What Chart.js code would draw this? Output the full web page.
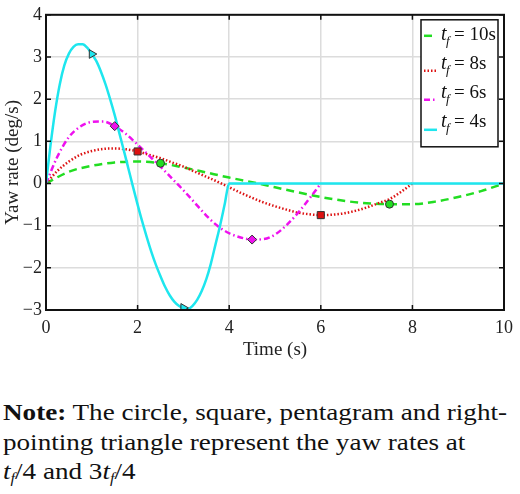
<!DOCTYPE html>
<html>
<head>
<meta charset="utf-8">
<script src="https://cdn.jsdelivr.net/npm/chart.js@4.4.1/dist/chart.umd.min.js"></script>
<style>
body{margin:0;background:#fff;width:520px;height:494px;overflow:hidden;position:relative;font-family:"Liberation Serif",serif;color:#111;}
#wrap{position:absolute;left:0;top:0;width:520px;height:362px;}
#note{position:absolute;left:3px;top:398px;font-size:24px;line-height:29.5px;white-space:nowrap;transform:scaleX(1.13);transform-origin:0 0;}
#note sub{font-size:60%;vertical-align:-0.25em;line-height:0;}
</style>
</head>
<body>
<div id="wrap"><canvas id="chart" width="520" height="362"></canvas></div>
<div id="note"><b>Note:</b> The circle, square, pentagram and right-<br>pointing triangle represent the yaw rates at<br><i>t<sub>f</sub></i>/4 and 3<i>t<sub>f</sub></i>/4</div>
<script>
// ----- DATOS ----- //
// t_f = 10 s
const t10 = [0,0.5,1,1.5,2,2.5,3,3.5,4,4.5,5,5.5,6,6.5,7,7.5,8,8.5,9,9.5,10];
const r10 = [0,0.28,0.42,0.5,0.52,0.48,0.38,0.26,0.14,0.03,-0.09,-0.21,-0.32,-0.41,-0.47,-0.49,-0.49,-0.43,-0.32,-0.18,0];
// t_f = 8 s
const t8 = [0,0.25,0.5,0.75,1,1.25,1.5,1.75,2,2.25,2.5,2.75,3,3.25,3.5,3.75,4,4.25,4.5,4.75,5,5.25,5.5,5.75,6,6.25,6.5,6.75,7,7.25,7.5,7.75,8];
const r8 = [0,0.3,0.52,0.68,0.77,0.82,0.83,0.81,0.76,0.68,0.6,0.5,0.4,0.28,0.16,0.04,-0.09,-0.22,-0.34,-0.45,-0.54,-0.62,-0.69,-0.73,-0.75,-0.74,-0.71,-0.65,-0.57,-0.47,-0.37,-0.2,0];
// t_f = 6 s
const t6 = [0,0.25,0.5,0.75,1,1.25,1.5,1.75,2,2.25,2.5,2.75,3,3.25,3.5,3.75,4,4.25,4.5,4.75,5,5.25,5.5,5.75,6];
const r6 = [0,0.64,1.1,1.35,1.46,1.47,1.36,1.17,0.92,0.66,0.4,0.12,-0.16,-0.46,-0.76,-1.01,-1.18,-1.28,-1.33,-1.32,-1.21,-0.99,-0.7,-0.36,0];
// t_f = 4 s
const t4 = [0,0.1,0.2,0.3,0.4,0.5,0.6,0.7,0.8,0.9,1,1.1,1.2,1.3,1.4,1.5,1.6,1.7,1.8,1.9,2,2.1,2.2,2.3,2.4,2.5,2.6,2.7,2.8,2.9,3,3.1,3.2,3.3,3.4,3.5,3.6,3.7,3.8,3.9,4,10];
const r4 = [0,0.92,1.72,2.35,2.8,3.08,3.24,3.3,3.3,3.22,3.07,2.9,2.65,2.35,2.0,1.62,1.2,0.78,0.35,-0.08,-0.5,-0.9,-1.27,-1.62,-1.93,-2.2,-2.45,-2.65,-2.8,-2.9,-2.96,-2.97,-2.9,-2.76,-2.55,-2.27,-1.9,-1.45,-1.0,-0.5,0,0];
// marcadores en tf/4 y 3tf/4
const markT10 = [2.5,7.5], markR10 = [0.48,-0.49];
const markT8 = [2,6],      markR8 = [0.76,-0.75];
const markT6 = [1.5,4.5],  markR6 = [1.36,-1.33];
const markT4 = [1,3],      markR4 = [3.07,-2.95];

const xTicks = [0,2,4,6,8,10];
const yTicks = [-3,-2,-1,0,1,2,3,4];
const legendLabels = ["10s","8s","6s","4s"];

// ----- ESTILOS ----- //
const GREEN = "#22dd22", RED = "#dd1111", MAGENTA = "#ee11ee", CYAN = "#1ee6ee";
const SERIF = "'Liberation Serif', 'Times New Roman', serif";

const pts = (xs, ys) => xs.map((x, i) => ({x: x, y: ys[i]}));

function curve(xs, ys, color, dash, order) {
    return {
        data: pts(xs, ys), borderColor: color, borderWidth: 2.5, borderDash: dash,
        pointRadius: 0, fill: false, cubicInterpolationMode: "monotone", order: order
    };
}
function marks(xs, ys, color, style, r, rot) {
    return {
        type: "scatter", data: pts(xs, ys), backgroundColor: color, borderColor: "#333",
        borderWidth: 1, pointStyle: style, pointRadius: r, pointRotation: rot || 0,
        showLine: false, order: 0
    };
}

// marco negro y marcas interiores (estilo MATLAB) + leyenda
const decor = {
    id: "decor",
    afterDraw(chart) {
        const {ctx, chartArea: a, scales: {x, y}} = chart;
        ctx.save();
        ctx.strokeStyle = "#111";
        ctx.lineWidth = 1.5;
        ctx.beginPath();
        xTicks.forEach(v => {
            const px = x.getPixelForValue(v);
            ctx.moveTo(px, a.bottom); ctx.lineTo(px, a.bottom - 5);
            ctx.moveTo(px, a.top); ctx.lineTo(px, a.top + 5);
        });
        yTicks.forEach(v => {
            const py = y.getPixelForValue(v);
            ctx.moveTo(a.left, py); ctx.lineTo(a.left + 5, py);
            ctx.moveTo(a.right, py); ctx.lineTo(a.right - 5, py);
        });
        ctx.stroke();
        ctx.lineWidth = 2;
        ctx.strokeRect(a.left, a.top, a.right - a.left, a.bottom - a.top);

        // leyenda
        const bx = a.right - 83, by = a.top + 5, bw = 77, bh = 127;
        ctx.fillStyle = "#fff";
        ctx.fillRect(bx, by, bw, bh);
        ctx.lineWidth = 1.5;
        ctx.strokeRect(bx, by, bw, bh);
        const cols = [GREEN, RED, MAGENTA, CYAN];
        const dashes = [[8, 5], [1.5, 2], [6, 3, 1.5, 3], []];
        const sampleOff = [1, 7, 7, 8];
        legendLabels.forEach((lab, i) => {
            const cy = by + 15 + i * 29;
            ctx.strokeStyle = cols[i];
            ctx.lineWidth = 2.5;
            ctx.setLineDash(dashes[i]);
            ctx.beginPath();
            ctx.moveTo(bx + 3, cy + sampleOff[i]);
            ctx.lineTo(bx + (i === 0 ? 11 : 16), cy + sampleOff[i]);
            ctx.stroke();
            ctx.setLineDash([]);
            ctx.fillStyle = "#111";
            ctx.textBaseline = "middle";
            ctx.textAlign = "left";
            ctx.font = "italic 20px " + SERIF;
            ctx.fillText("t", bx + 20, cy);
            ctx.font = "italic 13px " + SERIF;
            ctx.fillText("f", bx + 25, cy + 7);
            ctx.font = "19px " + SERIF;
            ctx.fillText("= " + lab, bx + 33, cy);
        });
        ctx.restore();
    }
};

new Chart(document.getElementById("chart"), {
    type: "line",
    data: {
        datasets: [
            marks(markT4, markR4, CYAN, "triangle", 5, 90),
            marks(markT6, markR6, MAGENTA, "rectRot", 4.5),
            marks(markT8, markR8, RED, "rect", 5),
            marks(markT10, markR10, GREEN, "circle", 4),
            curve(t4, r4, CYAN, [], 1),
            curve(t6, r6, MAGENTA, [6, 3, 1.5, 3], 2),
            curve(t8, r8, RED, [1.5, 2], 3),
            curve(t10, r10, GREEN, [8, 5], 4)
        ]
    },
    options: {
        responsive: false,
        animation: false,
        layout: {padding: {left: 0, right: 13, top: 12, bottom: 0}},
        plugins: {legend: {display: false}, tooltip: {enabled: false}},
        scales: {
            x: {
                type: "linear", min: 0, max: 10,
                afterBuildTicks: s => { s.ticks = xTicks.map(v => ({value: v})); },
                ticks: {color: "#222", font: {family: SERIF, size: 18}, padding: 7, maxRotation: 0},
                grid: {color: "#dcdcdc", lineWidth: 1.5, drawTicks: false},
                border: {display: false},
                title: {display: true, text: "Time (s)", color: "#222", font: {family: SERIF, size: 19, lineHeight: 1.2}, padding: {top: 0, bottom: 1}},
                afterFit: s => { s.height = 52; }
            },
            y: {
                min: -3, max: 4,
                afterBuildTicks: s => { s.ticks = yTicks.map(v => ({value: v})); },
                ticks: {color: "#222", font: {family: SERIF, size: 18}, padding: 4,
                        callback: v => v < 0 ? "\u2212" + Math.abs(v) : "" + v},
                grid: {color: "#dcdcdc", lineWidth: 1.5, drawTicks: false},
                border: {display: false},
                title: {display: true, text: "Yaw rate (deg/s)", color: "#222", font: {family: SERIF, size: 19, lineHeight: 1.2}, padding: {top: 2, bottom: 0}},
                afterFit: s => { s.width = 46; }
            }
        }
    },
    plugins: [decor]
});
</script>
</body>
</html>
